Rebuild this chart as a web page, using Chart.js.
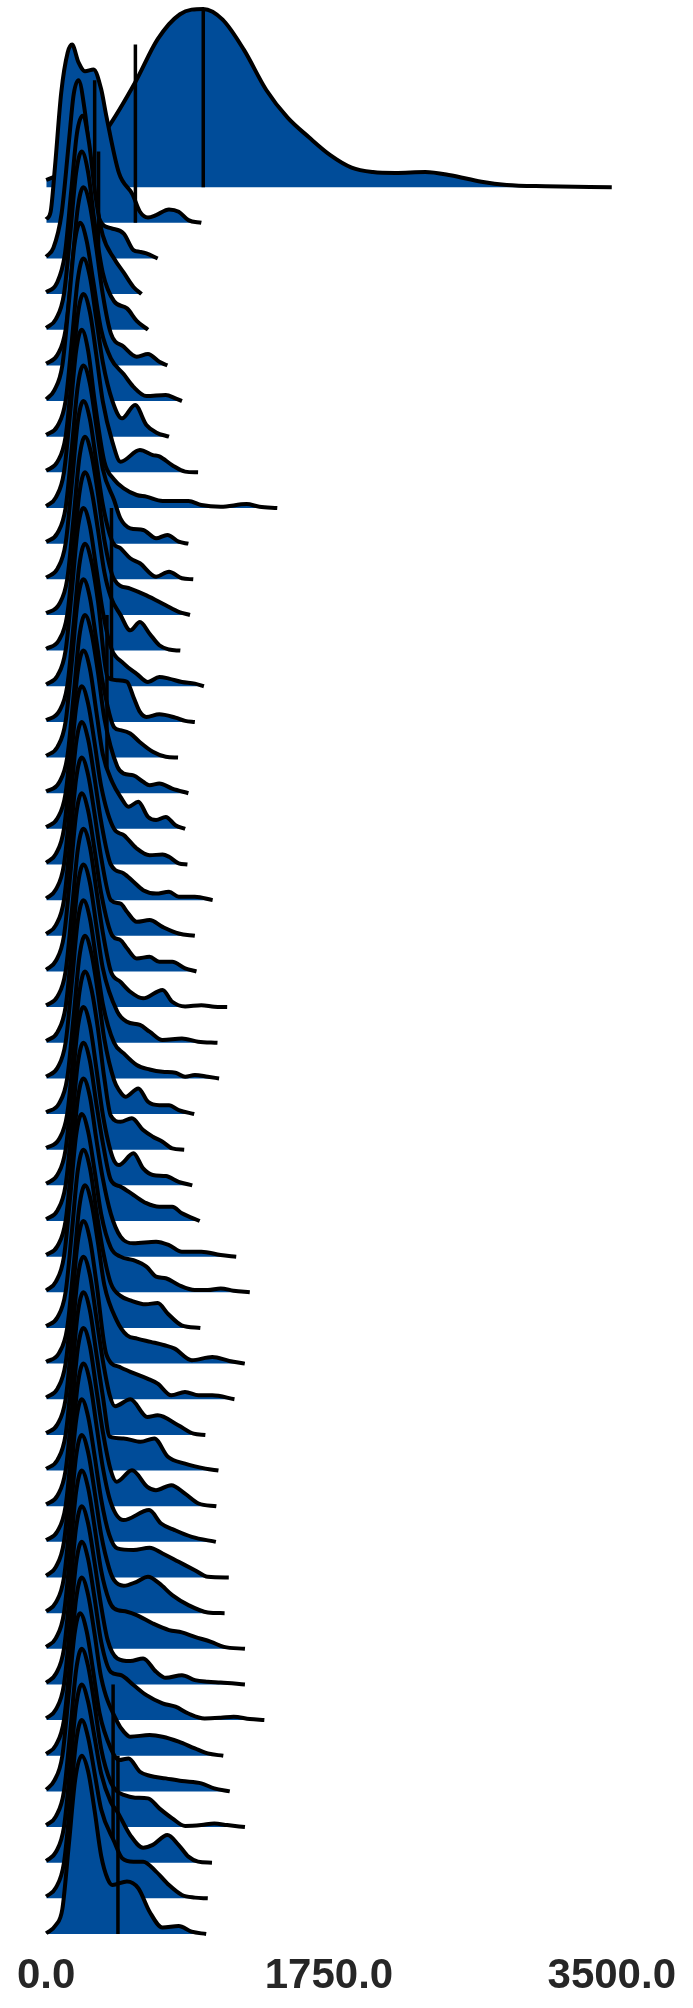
<!DOCTYPE html>
<html>
<head>
<meta charset="utf-8">
<script src="https://cdn.jsdelivr.net/npm/chart.js@4.4.1/dist/chart.umd.min.js"></script>
<style>
  html, body { margin: 0; padding: 0; background: #fff; }
  canvas { display: block; }
</style>
</head>
<body>
<canvas id="ridges" width="693" height="2008"></canvas>
<script>
// x axis ticks
const tickVals = [0, 1750, 3500];

// each row: [value, density scaled so the row peak is 1]
const r00 = [[0,.04],[100,.08],[200,.15],[300,.24],[372,.32],[552,.59],[690,.83],[828,.97],[972,1],[1092,.94],[1224,.77],[1362,.545],[1494,.39],[1626,.28],[1758,.18],[1890,.11],[2022,.085],[2160,.08],[2346,.085],[2502,.067],[2694,.03],[2850,.012],[3090,.005],[3500,0]];
const r01 = [[0,.02],[27,.06],[54,.31],[93,.73],[133,.955],[160,1],[200,.9],[240,.85],[293,.86],[340,.75],[372,.6],[450,.28],[534,.16],[580,.062],[630,.03],[680,.043],[760,.075],[820,.062],[880,.015],[960,0]];
const r02 = [[0,.01],[45,.06],[95,.25],[140,.65],[170,.92],[200,1],[240,.82],[280,.5],[330,.22],[400,.17],[480,.14],[540,.047],[580,.037],[620,.028],[690,0]];
const r03 = [[0,.01],[65,.06],[115,.22],[155,.58],[190,.9],[225,1],[265,.85],[305,.55],[350,.33],[420,.2],[480,.12],[540,.04],[590,0]];
const r04 = [[0,.01],[60,.06],[110,.2],[150,.55],[185,.88],[220,1],[260,.88],[300,.6],[350,.32],[420,.16],[500,.12],[560,.05],[630,0]];
const r05 = [[0,.01],[70,.06],[120,.2],[160,.55],[195,.88],[230,1],[270,.9],[310,.66],[350,.4],[400,.18],[480,.105],[560,.049],[630,.064],[700,.02],[750,0]];
const r06 = [[0,.01],[50,.06],[100,.2],[140,.55],[175,.88],[210,1],[250,.9],[290,.68],[340,.4],[400,.24],[480,.15],[540,.08],[620,.028],[740,.034],[800,.015],[840,0]];
const r07 = [[0,.01],[70,.06],[120,.2],[160,.55],[195,.88],[230,1],[270,.9],[310,.66],[350,.42],[410,.2],[470,.103],[550,.178],[620,.066],[680,.024],[760,0]];
const r08 = [[0,.01],[70,.06],[120,.2],[160,.55],[195,.88],[230,1],[270,.9],[310,.66],[350,.4],[410,.17],[460,.06],[580,.125],[660,.097],[700,.09],[780,.04],[860,.004],[940,0]];
const r09 = [[0,.01],[60,.06],[110,.2],[150,.55],[185,.88],[220,1],[260,.88],[300,.6],[360,.26],[420,.16],[480,.11],[560,.073],[620,.064],[720,.04],[880,.04],[960,.017],[1080,.007],[1240,.022],[1320,.007],[1430,0]];
const r10 = [[0,.01],[70,.06],[120,.2],[160,.55],[195,.88],[230,1],[270,.9],[310,.66],[350,.42],[420,.245],[460,.14],[520,.086],[600,.077],[680,.03],[750,.049],[820,.011],[880,0]];
const r11 = [[0,.01],[70,.06],[120,.2],[160,.55],[195,.88],[230,1],[270,.9],[310,.66],[350,.42],[410,.21],[460,.174],[520,.118],[580,.09],[680,.015],[760,.043],[840,.006],[910,0]];
const r12 = [[0,.01],[80,.06],[130,.2],[170,.55],[205,.88],[240,1],[280,.9],[320,.68],[360,.42],[420,.2],[520,.148],[620,.11],[740,.054],[820,.017],[890,0]];
const r13 = [[0,.01],[80,.06],[130,.2],[170,.55],[205,.88],[240,1],[280,.9],[320,.68],[360,.44],[400,.3],[460,.2],[520,.114],[580,.16],[640,.095],[700,.03],[760,.006],[830,0]];
const r14 = [[0,.01],[70,.06],[120,.2],[160,.55],[195,.88],[230,1],[270,.9],[310,.66],[350,.42],[400,.22],[480,.127],[560,.07],[630,.024],[700,.052],[760,.043],[840,.024],[920,.015],[976,0]];
const r15 = [[0,.01],[80,.06],[130,.2],[170,.55],[205,.88],[240,1],[280,.9],[320,.68],[380,.25],[440,.234],[500,.225],[540,.14],[580,.056],[620,.028],[700,.043],[800,.024],[860,.006],[920,0]];
const r16 = [[0,.01],[70,.06],[120,.2],[160,.55],[195,.88],[230,1],[270,.9],[310,.66],[350,.42],[420,.17],[460,.154],[520,.135],[580,.086],[660,.032],[740,.004],[816,0]];
const r17 = [[0,.01],[80,.06],[130,.2],[170,.55],[205,.88],[240,1],[280,.9],[320,.68],[360,.42],[440,.15],[480,.11],[540,.1],[600,.064],[640,.045],[700,.054],[780,.026],[880,0]];
const r18 = [[0,.01],[70,.06],[120,.2],[160,.55],[195,.88],[230,1],[270,.9],[310,.66],[350,.42],[410,.26],[460,.18],[510,.124],[570,.152],[630,.067],[680,.049],[740,.067],[800,.02],[860,0]];
const r19 = [[0,.01],[60,.06],[110,.2],[150,.55],[185,.88],[220,1],[260,.9],[300,.68],[340,.44],[420,.2],[480,.165],[560,.09],[640,.052],[720,.056],[760,.043],[820,.006],[874,0]];
const r20 = [[0,.01],[60,.06],[110,.2],[150,.55],[185,.88],[220,1],[260,.9],[300,.68],[340,.44],[400,.2],[480,.15],[540,.103],[600,.056],[680,.037],[760,.047],[820,.019],[920,.019],[1030,0]];
const r21 = [[0,.01],[60,.06],[110,.2],[150,.55],[185,.88],[220,1],[260,.9],[300,.68],[340,.44],[400,.2],[460,.18],[500,.135],[560,.079],[640,.088],[720,.05],[820,.013],[920,0]];
const r22 = [[0,.01],[60,.06],[110,.2],[150,.55],[185,.88],[220,1],[260,.9],[300,.68],[340,.44],[410,.2],[460,.176],[500,.13],[560,.073],[640,.082],[700,.054],[780,.054],[860,.017],[930,0]];
const r23 = [[0,.01],[70,.06],[120,.2],[160,.55],[195,.88],[230,1],[270,.9],[310,.66],[350,.42],[400,.2],[460,.142],[520,.086],[600,.049],[720,.096],[780,.03],[860,.004],[960,.011],[1040,.002],[1120,0]];
const r24 = [[0,.01],[70,.06],[120,.2],[160,.55],[195,.88],[230,1],[270,.9],[310,.66],[350,.42],[440,.175],[500,.118],[580,.1],[640,.062],[720,.015],[840,.024],[940,.006],[1060,0]];
const r25 = [[0,.01],[70,.06],[120,.2],[160,.55],[195,.88],[230,1],[270,.9],[310,.66],[350,.42],[420,.2],[480,.14],[560,.075],[640,.05],[720,.037],[800,.032],[860,.009],[920,.019],[1000,.009],[1070,0]];
const r26 = [[0,.01],[80,.06],[130,.2],[170,.55],[205,.88],[240,1],[280,.9],[320,.68],[360,.42],[420,.19],[450,.135],[490,.097],[570,.144],[630,.069],[700,.05],[760,.05],[820,.022],[916,0]];
const r27 = [[0,.01],[80,.06],[130,.2],[170,.55],[205,.88],[240,1],[280,.9],[320,.68],[360,.4],[400,.19],[460,.157],[530,.176],[600,.11],[660,.073],[720,.045],[780,.007],[854,0]];
const r28 = [[0,.01],[70,.06],[120,.2],[160,.55],[195,.88],[230,1],[270,.9],[310,.66],[350,.4],[410,.16],[450,.114],[540,.18],[600,.095],[660,.058],[740,.052],[820,.02],[904,0]];
const r29 = [[0,.01],[70,.06],[120,.2],[160,.55],[195,.88],[230,1],[270,.9],[310,.66],[350,.44],[400,.23],[460,.193],[540,.146],[620,.1],[700,.08],[780,.08],[840,.043],[950,0]];
const r30 = [[0,.01],[70,.06],[120,.2],[160,.55],[195,.88],[230,1],[270,.9],[310,.66],[350,.44],[400,.24],[460,.112],[540,.075],[680,.084],[760,.065],[840,.028],[960,.028],[1080,.009],[1176,0]];
const r31 = [[0,.01],[60,.06],[110,.2],[150,.55],[185,.88],[220,1],[260,.9],[300,.68],[340,.44],[400,.25],[460,.2],[540,.18],[620,.144],[680,.088],[740,.079],[820,.041],[920,.013],[1000,.013],[1080,.022],[1160,.009],[1260,0]];
const r32 = [[0,.01],[70,.06],[120,.2],[160,.55],[195,.88],[230,1],[270,.9],[310,.66],[350,.44],[400,.25],[460,.18],[521,.155],[616,.133],[690,.14],[753,.08],[838,.015],[954,0]];
const r33 = [[0,.01],[80,.06],[130,.2],[170,.55],[205,.88],[240,1],[280,.9],[320,.68],[360,.44],[436,.243],[500,.159],[563,.14],[647,.122],[732,.103],[795,.084],[901,.019],[1028,.037],[1133,.015],[1229,0]];
const r34 = [[0,.01],[70,.06],[120,.2],[160,.55],[195,.88],[230,1],[270,.9],[310,.66],[373,.25],[457,.18],[521,.154],[626,.116],[690,.088],[774,.022],[859,.041],[943,.022],[1028,.022],[1165,0]];
const r35 = [[0,.01],[70,.06],[120,.2],[160,.55],[195,.88],[230,1],[270,.9],[310,.66],[350,.42],[394,.22],[426,.161],[521,.2],[626,.101],[690,.11],[817,.054],[912,.007],[985,0]];
const r36 = [[0,.01],[70,.06],[120,.2],[160,.55],[195,.88],[230,1],[270,.9],[310,.66],[350,.42],[394,.19],[478,.18],[584,.161],[669,.18],[753,.077],[859,.039],[986,.011],[1066,0]];
const r37 = [[0,.01],[70,.06],[120,.2],[160,.55],[195,.88],[230,1],[270,.9],[310,.66],[350,.42],[400,.2],[436,.137],[531,.202],[626,.109],[679,.09],[774,.118],[859,.071],[943,.015],[1053,0]];
const r38 = [[0,.01],[70,.06],[120,.2],[160,.55],[195,.88],[230,1],[270,.9],[310,.66],[350,.42],[400,.22],[478,.122],[637,.178],[711,.103],[795,.066],[901,.028],[1050,0]];
const r39 = [[0,.01],[60,.06],[110,.2],[150,.55],[185,.88],[220,1],[260,.9],[300,.68],[340,.44],[390,.24],[440,.163],[540,.154],[640,.167],[720,.135],[820,.088],[920,.041],[1000,.004],[1130,0]];
const r40 = [[0,.01],[60,.06],[110,.2],[150,.55],[185,.88],[220,1],[260,.9],[300,.68],[340,.44],[390,.25],[420,.185],[480,.154],[560,.176],[630,.204],[700,.167],[780,.101],[880,.045],[1000,.004],[1104,0]];
const r41 = [[0,.01],[60,.06],[110,.2],[150,.55],[185,.88],[220,1],[260,.9],[300,.68],[340,.44],[390,.27],[420,.227],[500,.208],[560,.189],[660,.142],[760,.105],[840,.092],[920,.067],[1020,.039],[1100,.011],[1230,0]];
const r42 = [[0,.01],[60,.06],[110,.2],[150,.55],[185,.88],[220,1],[260,.9],[300,.68],[340,.44],[380,.25],[440,.146],[520,.131],[600,.146],[680,.071],[740,.037],[840,.052],[920,.024],[1000,.015],[1080,.011],[1230,0]];
const r43 = [[0,.01],[60,.06],[110,.2],[150,.55],[185,.88],[220,1],[260,.9],[300,.68],[340,.44],[400,.27],[460,.253],[540,.197],[620,.14],[720,.094],[800,.075],[880,.037],[980,.009],[1080,.013],[1160,.019],[1260,.006],[1350,0]];
const r44 = [[0,.01],[60,.06],[110,.2],[150,.55],[185,.88],[220,1],[260,.9],[300,.68],[340,.44],[440,.19],[480,.135],[520,.107],[640,.116],[720,.107],[820,.079],[920,.041],[1000,.013],[1096,0]];
const r45 = [[0,.01],[50,.06],[100,.2],[140,.55],[175,.88],[210,1],[250,.9],[290,.68],[330,.44],[400,.24],[450,.176],[510,.185],[580,.11],[640,.088],[740,.073],[840,.058],[960,.045],[1040,.017],[1136,0]];
const r46 = [[0,.01],[60,.06],[110,.2],[150,.55],[185,.88],[220,1],[260,.9],[300,.68],[340,.44],[400,.25],[440,.2],[480,.18],[550,.165],[630,.161],[700,.105],[780,.049],[860,.006],[960,.011],[1040,.02],[1120,.011],[1230,0]];
const r47 = [[0,.01],[60,.06],[110,.2],[150,.55],[185,.88],[220,1],[260,.9],[300,.7],[340,.5],[400,.34],[440,.286],[520,.155],[600,.084],[660,.1],[750,.155],[820,.099],[880,.034],[940,.006],[1026,0]];
const r48 = [[0,.01],[60,.06],[110,.2],[150,.55],[185,.88],[220,1],[260,.9],[300,.7],[340,.5],[420,.32],[470,.225],[540,.206],[600,.206],[680,.15],[760,.075],[840,.019],[920,.004],[1000,0]];
const r49 = [[0,.004],[60,.05],[100,.14],[140,.5],[180,.87],[220,1],[260,.91],[300,.69],[340,.44],[380,.31],[410,.275],[500,.295],[570,.257],[640,.125],[720,.036],[820,.045],[900,.013],[990,0]];

// vertical marker lines: row index and value
const lineRows = [0, 1, 2, 4, 14, 17, 47, 49];
const lineVals = [972, 552, 300, 324, 404, 376, 414, 444];

const rows = [r00, r01, r02, r03, r04, r05, r06, r07, r08, r09,
  r10, r11, r12, r13, r14, r15, r16, r17, r18, r19,
  r20, r21, r22, r23, r24, r25, r26, r27, r28, r29,
  r30, r31, r32, r33, r34, r35, r36, r37, r38, r39,
  r40, r41, r42, r43, r44, r45, r46, r47, r48, r49];

const BLUE = '#004c99';
const peakRows = 5;   // a row's peak reaches 5 rows up
const nRows = rows.length;

const datasets = [];
rows.forEach((pts, i) => {
  const base = nRows - 1 - i;
  datasets.push({
    data: pts.map(p => ({ x: p[0], y: base + p[1] * peakRows })),
    borderColor: '#000',
    borderWidth: 4,
    borderJoinStyle: 'round',
    backgroundColor: BLUE,
    fill: { value: base },
    cubicInterpolationMode: 'monotone',
    pointRadius: 0,
    order: base * 2 + 1,
    clip: false
  });
});

lineRows.forEach((row, k) => {
  const base = nRows - 1 - row;
  datasets.push({
    data: [{ x: lineVals[k], y: base }, { x: lineVals[k], y: base + peakRows }],
    borderColor: '#000',
    borderWidth: 3.5,
    fill: false,
    pointRadius: 0,
    order: base * 2,
    clip: false
  });
});

new Chart(document.getElementById('ridges').getContext('2d'), {
  type: 'line',
  data: { datasets },
  options: {
    responsive: false,
    animation: false,
    devicePixelRatio: 1,
    layout: { padding: { left: 40, right: 70, top: 0, bottom: 0 } },
    plugins: { legend: { display: false }, tooltip: { enabled: false } },
    scales: {
      x: {
        type: 'linear',
        min: 0,
        max: 3500,
        grid: { display: false, drawTicks: false },
        border: { display: false },
        afterBuildTicks: s => { s.ticks = tickVals.map(v => ({ value: v })); },
        afterFit: s => { s.height = 74; },
        ticks: {
          padding: 17,
          autoSkip: false,
          maxRotation: 0,
          color: '#262626',
          font: { family: 'Liberation Sans, Arial, sans-serif', size: 42, weight: 'bold' },
          callback: v => Number(v).toFixed(1)
        }
      },
      y: { type: 'linear', display: false, min: 0, max: 54.25 }
    }
  }
});
</script>
</body>
</html>
